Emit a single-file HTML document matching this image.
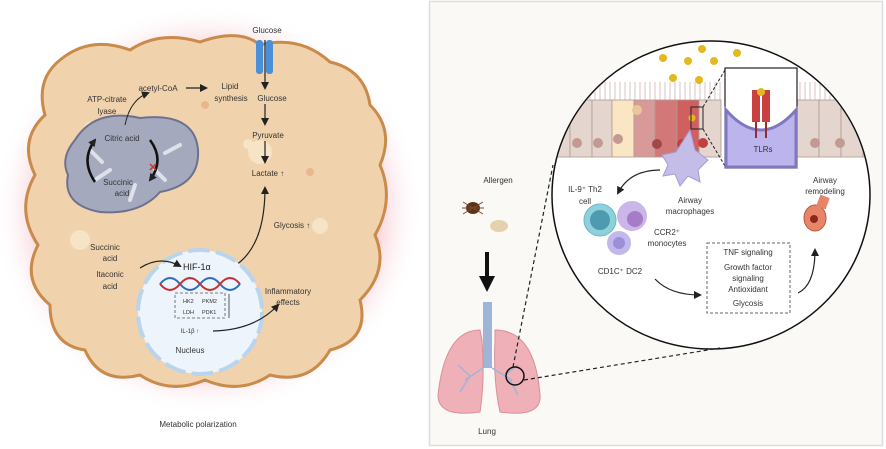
<!DOCTYPE html>
<html><head><meta charset="utf-8"><style>
body{margin:0;background:#fff;}
svg{display:block;font-family:"Liberation Sans",sans-serif;}
</style></head><body>
<svg width="886" height="449" viewBox="0 0 886 449" xmlns="http://www.w3.org/2000/svg">
<defs>
<radialGradient id="glow" cx="50%" cy="50%" r="50%">
<stop offset="72%" stop-color="#f4b0bb"/><stop offset="100%" stop-color="#fff" stop-opacity="0"/>
</radialGradient>
<marker id="ah" markerUnits="userSpaceOnUse" markerWidth="8" markerHeight="8" refX="6" refY="4" orient="auto"><path d="M0,0 L8,4 L0,8 z" fill="#222"/></marker>
</defs>
<rect width="886" height="449" fill="#fff"/>
<ellipse cx="208" cy="210" rx="215" ry="205" fill="url(#glow)"/>
<path d="M60,60 Q90,35 130,50 Q160,30 200,42 Q240,28 260,45 Q300,35 330,62 Q365,70 370,105 Q395,130 380,165 Q395,200 375,235 Q390,270 360,300 Q370,340 330,350 Q310,385 270,375 Q240,395 205,380 Q170,395 140,375 Q100,385 85,350 Q50,345 50,305 Q20,280 38,245 Q15,210 35,175 Q18,140 45,115 Q35,80 60,60 Z" fill="#f0d3ac" stroke="#c98a4a" stroke-width="3"/>
<circle cx="260" cy="152" r="12" fill="#f7e3c6"/><circle cx="248" cy="144" r="5" fill="#f7e3c6"/>
<circle cx="80" cy="240" r="10" fill="#f7e3c6"/><circle cx="320" cy="226" r="8" fill="#f7e3c6"/>
<circle cx="90" cy="128" r="6" fill="#f7e3c6"/><circle cx="310" cy="172" r="4" fill="#e8b88c"/><circle cx="205" cy="105" r="4" fill="#e8b88c"/>
<rect x="256" y="40" width="7" height="34" rx="3" fill="#4a8fd8"/><rect x="266" y="40" width="7" height="34" rx="3" fill="#4a8fd8"/>
<line x1="265" y1="40" x2="265" y2="88" stroke="#222" stroke-width="1.2" marker-end="url(#ah)"/>
<text x="267" y="33" font-size="8" text-anchor="middle" fill="#333">Glucose</text>
<path d="M75,140 Q95,108 140,118 Q195,112 198,150 Q200,185 160,192 Q140,215 100,212 Q62,205 68,175 Q60,158 75,140 Z" fill="#a5a9bd" stroke="#6d7190" stroke-width="2"/>
<path d="M90,150 l12,12 M95,180 l15,-10 M130,200 l5,-15 M165,180 l-10,-10 M180,145 l-15,8" stroke="#dfe1ea" stroke-width="4" stroke-linecap="round"/>
<path d="M95,182 Q80,160 95,140" fill="none" stroke="#111" stroke-width="2.5" marker-end="url(#ah)"/>
<path d="M150,140 Q165,160 150,180" fill="none" stroke="#111" stroke-width="2.5" marker-end="url(#ah)"/>
<text x="153" y="171" font-size="11" fill="#d03030" font-weight="bold" text-anchor="middle">✕</text>
<text x="122" y="141" font-size="8" text-anchor="middle" fill="#333">Citric acid</text>
<text x="118" y="185" font-size="8" text-anchor="middle" fill="#333">Succinic</text>
<text x="122" y="196" font-size="8" text-anchor="middle" fill="#333">acid</text>
<path d="M125,125 Q130,100 148,93" fill="none" stroke="#222" stroke-width="1" marker-end="url(#ah)"/>
<text x="107" y="102" font-size="8" text-anchor="middle" fill="#333">ATP-citrate</text>
<text x="107" y="114" font-size="8" text-anchor="middle" fill="#333">lyase</text>
<text x="158" y="91" font-size="8" text-anchor="middle" fill="#333">acetyl-CoA</text>
<line x1="186" y1="88" x2="206" y2="88" stroke="#222" stroke-width="1.2" marker-end="url(#ah)"/>
<text x="230" y="89" font-size="8" text-anchor="middle" fill="#333">Lipid</text>
<text x="231" y="101" font-size="8" text-anchor="middle" fill="#333">synthesis</text>
<text x="272" y="101" font-size="8" text-anchor="middle" fill="#333">Glucose</text>
<line x1="265" y1="104" x2="265" y2="124" stroke="#222" stroke-width="1.2" marker-end="url(#ah)"/>
<text x="268" y="138" font-size="8" text-anchor="middle" fill="#333">Pyruvate</text>
<line x1="265" y1="141" x2="265" y2="162" stroke="#222" stroke-width="1.2" marker-end="url(#ah)"/>
<text x="268" y="176" font-size="8" text-anchor="middle" fill="#333">Lactate ↑</text>
<path d="M236,265 Q265,245 265,188" fill="none" stroke="#222" stroke-width="1.2" marker-end="url(#ah)"/>
<text x="292" y="228" font-size="8" text-anchor="middle" fill="#333">Glycosis ↑</text>
<text x="105" y="250" font-size="8" text-anchor="middle" fill="#333">Succinic</text>
<text x="110" y="261" font-size="8" text-anchor="middle" fill="#333">acid</text>
<text x="110" y="277" font-size="8" text-anchor="middle" fill="#333">Itaconic</text>
<text x="110" y="289" font-size="8" text-anchor="middle" fill="#333">acid</text>
<circle cx="200" cy="312" r="62" fill="#eef4fb" stroke="#b8d4ee" stroke-width="4" stroke-dasharray="22 6"/>
<path d="M140,268 Q160,255 180,266" fill="none" stroke="#222" stroke-width="1.2" marker-end="url(#ah)"/>
<text x="183" y="270" font-size="9" fill="#222">HIF-1α</text>
<path d="M160,284 Q170,272 180,284 T200,284 T220,284 T240,284" fill="none" stroke="#2a6fc0" stroke-width="2"/>
<path d="M160,284 Q170,296 180,284 T200,284 T220,284 T240,284" fill="none" stroke="#c83030" stroke-width="2"/>
<rect x="175" y="293" width="50" height="25" fill="none" stroke="#555" stroke-dasharray="3 2" stroke-width="0.8"/>
<text x="183" y="303" font-size="5.5" fill="#333">HK2</text><text x="202" y="303" font-size="5.5" fill="#333">PKM2</text>
<text x="183" y="314" font-size="5.5" fill="#333">LDH</text><text x="202" y="314" font-size="5.5" fill="#333">PDK1</text>
<line x1="229" y1="318" x2="229" y2="294" stroke="#333" stroke-width="0.8"/>
<text x="190" y="333" font-size="6" text-anchor="middle" fill="#333">IL-1β ↑</text>
<path d="M213,331 Q255,330 278,305" fill="none" stroke="#222" stroke-width="1.2" marker-end="url(#ah)"/>
<text x="190" y="353" font-size="8" text-anchor="middle" fill="#333">Nucleus</text>
<text x="288" y="294" font-size="8" text-anchor="middle" fill="#333">Inflammatory</text>
<text x="288" y="305" font-size="8" text-anchor="middle" fill="#333">effects</text>
<text x="198" y="427" font-size="8" text-anchor="middle" fill="#333">Metabolic polarization</text>

<rect x="429.5" y="1.5" width="453" height="444" fill="#fbf9f5" stroke="#ddd" stroke-width="1.5"/>
<ellipse cx="711" cy="195" rx="159" ry="154" fill="#fff" stroke="#111" stroke-width="1.5"/>
<clipPath id="cc"><ellipse cx="711" cy="195" rx="158" ry="153"/></clipPath>
<g clip-path="url(#cc)">
<g stroke="#c9a8a8" stroke-width="0.7">
<path d="M560,100 v-18 M565,100 v-18 M570,100 v-18 M575,100 v-18 M580,100 v-18 M585,100 v-18 M590,100 v-18 M595,100 v-18 M600,100 v-18 M605,100 v-18 M610,100 v-18 M615,100 v-18 M620,100 v-18 M625,100 v-18 M630,100 v-18 M635,100 v-18 M640,100 v-18 M645,100 v-18 M650,100 v-18 M655,100 v-18 M660,100 v-18 M665,100 v-18 M670,100 v-18 M675,100 v-18 M680,100 v-18 M685,100 v-18 M690,100 v-18 M695,100 v-18 M700,100 v-18 M705,100 v-18 M710,100 v-18 M715,100 v-18 M720,100 v-18 M800,100 v-18 M805,100 v-18 M810,100 v-18 M815,100 v-18 M820,100 v-18 M825,100 v-18 M830,100 v-18 M835,100 v-18 M840,100 v-18 M845,100 v-18 M850,100 v-18 M855,100 v-18 M860,100 v-18 M865,100 v-18 M870,100 v-18"/>
</g>
<g stroke="#b09a92" stroke-width="0.8">
<rect x="548" y="100" width="22" height="57" fill="#e4d6cf"/><rect x="570" y="100" width="22" height="57" fill="#e4d6cf"/>
<rect x="592" y="100" width="20" height="57" fill="#e4d6cf"/><rect x="612" y="100" width="22" height="57" fill="#fbe6c4"/>
<rect x="634" y="100" width="21" height="57" fill="#d79a98"/><rect x="655" y="100" width="22" height="57" fill="#d27878"/>
<rect x="677" y="100" width="22" height="57" fill="#d06060"/><rect x="699" y="100" width="22" height="57" fill="#e4d6cf"/>
<rect x="797" y="100" width="22" height="57" fill="#e4d6cf"/><rect x="819" y="100" width="22" height="57" fill="#e4d6cf"/>
<rect x="841" y="100" width="22" height="57" fill="#e4d6cf"/><rect x="863" y="100" width="22" height="57" fill="#e4d6cf"/>
</g>
<g fill="#c29a92"><circle cx="577" cy="143" r="5"/><circle cx="598" cy="143" r="5"/><circle cx="618" cy="139" r="5"/><circle cx="815" cy="143" r="5"/><circle cx="840" cy="143" r="5"/></g>
<circle cx="637" cy="110" r="5" fill="#e8c89a"/>
<circle cx="657" cy="144" r="5" fill="#a24848"/><circle cx="682" cy="144" r="5" fill="#c04040"/><circle cx="703" cy="143" r="5" fill="#c04040"/>
</g>
<g fill="#e6b820"><circle cx="663" cy="58" r="4"/><circle cx="702" cy="49" r="4"/><circle cx="688" cy="61" r="4"/><circle cx="714" cy="61" r="4"/><circle cx="737" cy="53" r="4"/><circle cx="673" cy="78" r="4"/><circle cx="699" cy="80" r="4"/><circle cx="692" cy="118" r="3.5"/></g>
<rect x="691" y="107" width="12" height="22" fill="none" stroke="#222" stroke-width="1"/>
<line x1="703" y1="107" x2="725" y2="70" stroke="#222" stroke-dasharray="3 2"/>
<line x1="703" y1="129" x2="725" y2="166" stroke="#222" stroke-dasharray="3 2"/>
<rect x="725" y="68" width="72" height="100" fill="#fff" stroke="#222" stroke-width="1.2"/>
<path d="M726,110 Q761,150 796,110 L796,167 L726,167 Z" fill="#bcb4ec" stroke="#7f77c0" stroke-width="3"/>
<rect x="752" y="90" width="8" height="32" fill="#c84040"/><rect x="762" y="90" width="8" height="32" fill="#c84040"/>
<line x1="756" y1="122" x2="756" y2="138" stroke="#9a2a2a" stroke-width="2"/><line x1="766" y1="122" x2="766" y2="138" stroke="#9a2a2a" stroke-width="2"/>
<circle cx="761" cy="92" r="4" fill="#e6b820"/>
<text x="763" y="152" font-size="8" text-anchor="middle" fill="#333">TLRs</text>
<path d="M690,130 L695,150 L708,160 L698,170 L700,182 L688,176 L680,186 L675,174 L663,176 L668,165 L662,155 L676,152 Z" fill="#c4bde8" stroke="#a59cd8"/>
<path d="M660,170 Q630,170 618,193" fill="none" stroke="#222" stroke-width="1.2" marker-end="url(#ah)"/>
<text x="690" y="203" font-size="8" text-anchor="middle" fill="#333">Airway</text>
<text x="690" y="214" font-size="8" text-anchor="middle" fill="#333">macrophages</text>
<text x="585" y="192" font-size="8" text-anchor="middle" fill="#333">IL-9⁺ Th2</text>
<text x="585" y="204" font-size="8" text-anchor="middle" fill="#333">cell</text>
<circle cx="600" cy="220" r="16" fill="#8ed0dc" stroke="#6ab8c8"/><circle cx="600" cy="220" r="10" fill="#4e9ab0"/>
<circle cx="632" cy="216" r="15" fill="#cbb6ea"/><circle cx="635" cy="219" r="8" fill="#a67cc8"/>
<circle cx="619" cy="243" r="12" fill="#c2b8ec"/><circle cx="619" cy="243" r="6" fill="#9e8ed8"/>
<text x="667" y="235" font-size="8" text-anchor="middle" fill="#333">CCR2⁺</text>
<text x="667" y="246" font-size="8" text-anchor="middle" fill="#333">monocytes</text>
<text x="620" y="274" font-size="8" text-anchor="middle" fill="#333">CD1C⁺ DC2</text>
<path d="M655,279 Q670,295 700,295" fill="none" stroke="#222" stroke-width="1.2" marker-end="url(#ah)"/>
<rect x="707" y="243" width="83" height="70" fill="none" stroke="#666" stroke-dasharray="3 2"/>
<g font-size="8" text-anchor="middle" fill="#333">
<text x="748" y="255">TNF signaling</text><text x="748" y="270">Growth factor</text>
<text x="748" y="281">signaling</text><text x="748" y="292">Antioxidant</text><text x="748" y="306">Glycosis</text>
<text x="825" y="183">Airway</text><text x="825" y="194">remodeling</text>
</g>
<path d="M798,293 Q815,285 815,250" fill="none" stroke="#222" stroke-width="1.2" marker-end="url(#ah)"/>
<ellipse cx="815" cy="218" rx="11" ry="13" fill="#e7856a" stroke="#c0563c"/><circle cx="814" cy="219" r="4" fill="#8a2a1a"/>
<rect x="818" y="196" width="10" height="12" fill="#e7856a" transform="rotate(20 823 202)"/>
<text x="498" y="183" font-size="8" text-anchor="middle" fill="#333">Allergen</text>
<ellipse cx="473" cy="208" rx="7" ry="6" fill="#5a3418"/><g stroke="#7a4a2a" stroke-width="1"><path d="M463,202 l20,12 M463,214 l20,-12 M462,208 h22"/></g>
<ellipse cx="499" cy="226" rx="9" ry="6" fill="#e4d2ae"/>
<line x1="487" y1="252" x2="487" y2="278" stroke="#111" stroke-width="4"/><path d="M479,276 L495,276 L487,292 Z" fill="#111"/>
<rect x="483" y="302" width="9" height="66" fill="#9fb5d8"/>
<path d="M480,330 Q445,330 438,395 Q438,418 480,412 Q485,380 482,340 Z" fill="#efb0b8" stroke="#d89098"/>
<path d="M495,330 Q535,330 540,395 Q542,418 500,412 Q493,380 495,340 Z" fill="#efb0b8" stroke="#d89098"/>
<path d="M483,368 L465,380 M470,376 L458,365 M470,376 L460,392 M492,368 L512,380 M505,375 L518,365 M510,380 L518,395" stroke="#9fb5d8" stroke-width="1.5" fill="none"/>
<circle cx="515" cy="376" r="9" fill="none" stroke="#111" stroke-width="1.5"/>
<line x1="513" y1="367" x2="553" y2="165" stroke="#222" stroke-width="1.2" stroke-dasharray="4 3"/>
<line x1="524" y1="380" x2="720" y2="348" stroke="#222" stroke-width="1.2" stroke-dasharray="4 3"/>
<text x="487" y="434" font-size="8" text-anchor="middle" fill="#333">Lung</text>
</svg>
</body></html>
